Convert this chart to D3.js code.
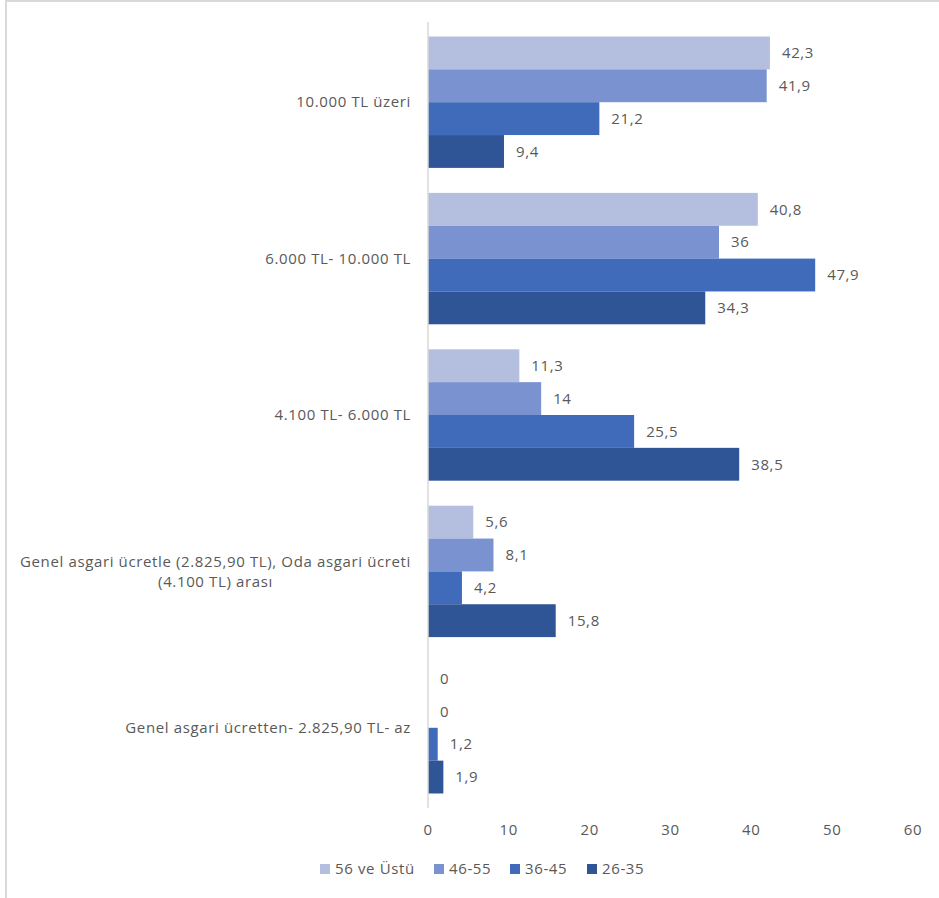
<!DOCTYPE html>
<html><head><meta charset="utf-8">
<script src="https://cdn.jsdelivr.net/npm/d3@7"></script>
<style>body{margin:0;background:#fff}svg{display:block}</style>
</head><body>
<script>
const categories = ["10.000 TL üzeri","6.000 TL- 10.000 TL","4.100 TL- 6.000 TL","Genel asgari ücretle (2.825,90 TL), Oda asgari ücreti (4.100 TL) arası","Genel asgari ücretten- 2.825,90 TL- az"];
const categoryLines = [["10.000 TL üzeri"],["6.000 TL- 10.000 TL"],["4.100 TL- 6.000 TL"],["Genel asgari ücretle (2.825,90 TL), Oda asgari ücreti","(4.100 TL) arası"],["Genel asgari ücretten- 2.825,90 TL- az"]];
const seriesNames = ["56 ve Üstü","46-55","36-45","26-35"];
const s56 = [42.3,40.8,11.3,5.6,0];
const s46 = [41.9,36,14,8.1,0];
const s36 = [21.2,47.9,25.5,4.2,1.2];
const s26 = [9.4,34.3,38.5,15.8,1.9];
const seriesValues = [s56,s46,s36,s26];
const xTicks = [0,10,20,30,40,50,60];
const colors = ["#B4BFE0","#7A92D0","#3F6BBA","#2F5597"];

const W=939,H=898;
const svg=d3.select("body").append("svg").attr("width",W).attr("height",H);
const font="'Open Sans', sans-serif";
const txt="#595959";
const fs=15;
// letter spacing so the long category line spans ~391px
const probe=svg.append("text").attr("font-family",font).attr("font-size",fs).text(categoryLines[3][0]);
const nChars=categoryLines[3][0].length;
const ls=Math.max(0,(391-probe.node().getComputedTextLength())/nChars);
probe.remove();
svg.style("letter-spacing",ls+"px");

svg.append("rect").attr("x",6).attr("y",1).attr("width",W+10).attr("height",H+10)
  .attr("fill","none").attr("stroke","#d9d9d9").attr("stroke-width",2);

const x=d3.scaleLinear().domain([0,60]).range([428,913]);
const y=d3.scaleBand().domain(categories).range([24,806]).paddingInner(0.16).paddingOuter(0.08);
const yi=d3.scaleBand().domain(seriesNames).range([0,y.bandwidth()]);

categories.forEach((c,ci)=>{
  const g=svg.append("g").attr("transform",`translate(0,${y(c)})`);
  seriesNames.forEach((s,si)=>{
    const v=seriesValues[si][ci];
    g.append("rect").attr("x",x(0)).attr("y",yi(s)).attr("width",x(v)-x(0)).attr("height",yi.bandwidth())
     .attr("fill",colors[si]);
    g.append("text").attr("x",x(v)+12).attr("y",yi(s)+yi.bandwidth()/2).attr("dy","0.35em")
     .attr("font-family",font).attr("font-size",fs).attr("fill",txt)
     .text(String(v).replace(".",","));
  });
});

svg.append("line").attr("x1",x(0)).attr("x2",x(0)).attr("y1",22).attr("y2",808)
  .attr("stroke","#d9d9d9").attr("stroke-width",1.5);

categories.forEach((c,ci)=>{
  const lines=categoryLines[ci];
  const cy=y(c)+y.bandwidth()/2;
  const lh=20;
  const t=svg.append("text").attr("font-family",font).attr("font-size",fs).attr("fill",txt);
  if(lines.length===1){
    t.attr("x",411).attr("y",cy).attr("dy","0.35em").attr("text-anchor","end").text(lines[0]);
  } else {
    const tmp=svg.append("text").attr("font-family",font).attr("font-size",fs).text(lines[0]);
    const w=tmp.node().getComputedTextLength(); tmp.remove();
    const cx=411-w/2;
    lines.forEach((l,li)=>{
      t.append("tspan").attr("x",cx).attr("y",cy+(li-(lines.length-1)/2)*lh).attr("dy","0.35em")
       .attr("text-anchor","middle").text(l);
    });
  }
});

const xa=svg.append("g").attr("transform","translate(0,830)");
xa.selectAll("text").data(xTicks).join("text").attr("x",d=>x(d)).attr("y",0).attr("dy","0.35em")
  .attr("text-anchor","middle").attr("font-family",font).attr("font-size",fs).attr("fill",txt).text(d=>d);

const legX=[320,434,510,587];
const lg=svg.append("g").attr("transform","translate(0,869)");
seriesNames.forEach((s,i)=>{
  lg.append("rect").attr("x",legX[i]).attr("y",-5).attr("width",10).attr("height",10).attr("fill",colors[i]);
  lg.append("text").attr("x",legX[i]+15).attr("y",0).attr("dy","0.35em").attr("font-family",font)
    .attr("font-size",fs).attr("fill",txt).text(s);
});
</script>
</body></html>
